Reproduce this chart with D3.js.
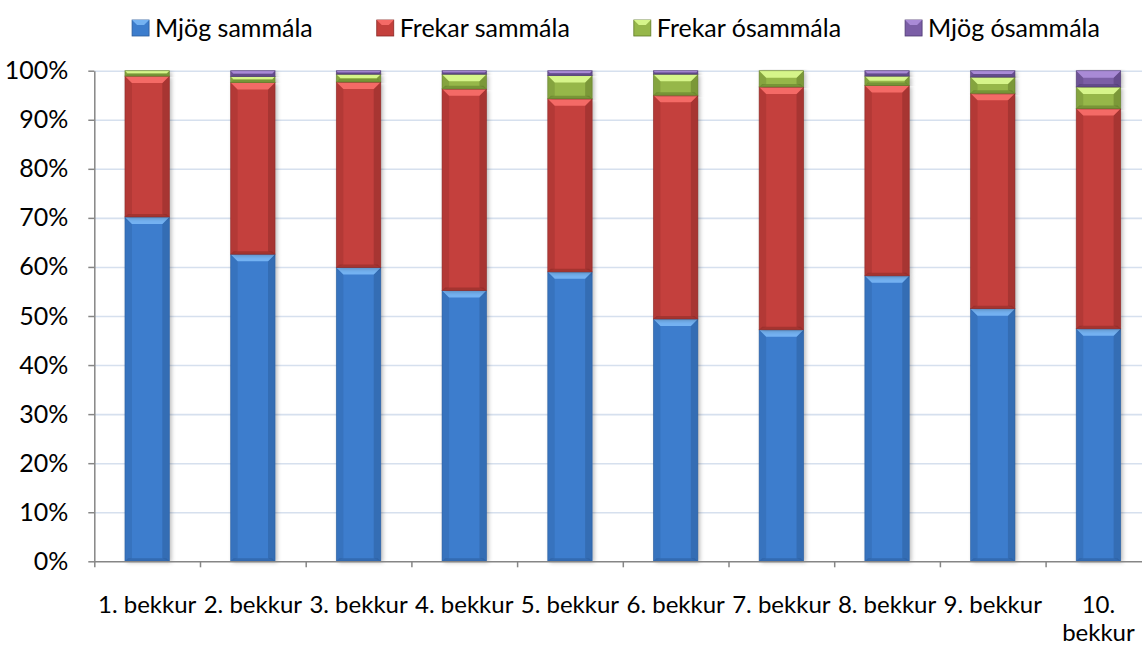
<!DOCTYPE html>
<html>
<head>
<meta charset="utf-8">
<script src="https://cdn.jsdelivr.net/npm/d3@7"></script>
<style>
  body { margin: 0; background: #fff; }
  svg { display: block; font-family: Lato, "Open Sans", sans-serif; }
</style>
</head>
<body>
<svg id="chart" width="1142" height="646"></svg>
<script>
const categories = ["1. bekkur", "2. bekkur", "3. bekkur", "4. bekkur", "5. bekkur",
    "6. bekkur", "7. bekkur", "8. bekkur", "9. bekkur", "10. bekkur"];
const seriesNames = ["Mjög sammála", "Frekar sammála", "Frekar ósammála", "Mjög ósammála"];
const mjogSammala = [70.2, 62.6, 59.9, 55.2, 59.0, 49.4, 47.2, 58.2, 51.5, 47.4];
const frekarSammala = [28.7, 35.0, 37.8, 41.1, 35.3, 45.6, 49.5, 38.8, 43.9, 44.9];
const frekarOsammala = [1.1, 1.2, 1.6, 3.0, 4.7, 4.3, 3.3, 1.9, 3.3, 4.4];
const mjogOsammala = [0, 1.2, 0.7, 0.7, 1.0, 0.7, 0, 1.1, 1.3, 3.3];
const yTicks = [0, 10, 20, 30, 40, 50, 60, 70, 80, 90, 100];

// face, light bevel, dark bevel
const colors = [
    ["#3c7dcd", "#74b2f2", "#2b5d9c"],
    ["#c4403c", "#f46a66", "#8a2a27"],
    ["#96b74a", "#d6f58a", "#5f7a28"],
    ["#7b5ea6", "#a98ad6", "#4f3a72"]
];

const rows = categories.map((c, i) => {
    const r = { cat: c };
    r[seriesNames[0]] = mjogSammala[i];
    r[seriesNames[1]] = frekarSammala[i];
    r[seriesNames[2]] = frekarOsammala[i];
    r[seriesNames[3]] = mjogOsammala[i];
    return r;
});
const stacked = d3.stack().keys(seriesNames)(rows);

const plotLeft = 94.3, plotRight = 1151.3, plotTop = 70.7, plotBottom = 561.3;
const svg = d3.select("#chart");

const x = d3.scaleBand().domain(categories).range([plotLeft, plotRight])
    .paddingInner(0.58).paddingOuter(0.29);
const xTick = d3.scaleLinear().domain([0, categories.length]).range([plotLeft, plotRight]);
const y = d3.scaleLinear().domain([0, 100]).range([plotBottom, plotTop]);

// shadow filter
const defs = svg.append("defs");
const f = defs.append("filter").attr("id", "shadow")
    .attr("x", "-30%").attr("y", "-5%").attr("width", "160%").attr("height", "110%");
f.append("feDropShadow").attr("dx", 2).attr("dy", 1).attr("stdDeviation", 2.2)
    .attr("flood-color", "#000").attr("flood-opacity", 0.28);

// gridlines
svg.append("g")
    .attr("transform", "translate(" + plotLeft + ",0)")
    .call(d3.axisLeft(y).tickValues(yTicks.slice(1)).tickSize(-(plotRight - plotLeft)).tickFormat(""))
    .call(g => g.select(".domain").remove())
    .call(g => g.selectAll("line").attr("stroke", "#d6e0ee").attr("stroke-width", 1.6));

// bars
const b = 7;
const barG = svg.append("g");
stacked.forEach((layer, si) => {
    const col = colors[si];
    layer.forEach((d, i) => {
        const h = y(d[0]) - y(d[1]);
        if (h <= 0) return;
        const x0 = x(categories[i]), x1 = x0 + x.bandwidth();
        const y0 = y(d[1]), y1 = y(d[0]);
        const bb = Math.min(b, h / 2);
        const bb2 = Math.min(3, h / 2);
        const g = barG.append("g");
        g.append("rect").attr("x", x0).attr("y", y0).attr("width", x1 - x0).attr("height", h)
            .attr("fill", col[0]).attr("filter", "url(#shadow)");
        // left and right bevel
        g.append("polygon").attr("points", [[x0, y0], [x0 + bb, y0 + bb], [x0 + bb, y1 - bb2], [x0, y1]].join(" "))
            .attr("fill", col[2]).attr("opacity", 0.3);
        g.append("polygon").attr("points", [[x1, y0], [x1 - bb, y0 + bb], [x1 - bb, y1 - bb2], [x1, y1]].join(" "))
            .attr("fill", col[2]).attr("opacity", 0.5);
        // top bevel
        g.append("polygon").attr("points", [[x0, y0], [x1, y0], [x1 - bb, y0 + bb], [x0 + bb, y0 + bb]].join(" "))
            .attr("fill", col[1]);
        // bottom bevel
        g.append("polygon").attr("points", [[x0, y1], [x1, y1], [x1 - bb2, y1 - bb2], [x0 + bb2, y1 - bb2]].join(" "))
            .attr("fill", col[2]).attr("opacity", 0.55);
        g.append("rect").attr("x", x0).attr("y", y0).attr("width", x1 - x0).attr("height", h)
            .attr("fill", "none").attr("stroke", col[2]).attr("stroke-width", 0.8).attr("stroke-opacity", 0.7);
    });
});

// y axis
svg.append("g")
    .attr("transform", "translate(" + plotLeft + ",0)")
    .call(d3.axisLeft(y).tickValues(yTicks).tickSize(6).tickSizeOuter(0).tickPadding(20)
        .tickFormat(d => d + "%"))
    .call(g => g.select(".domain").attr("stroke", "#868686").attr("stroke-width", 1.5))
    .call(g => g.selectAll("line").attr("stroke", "#868686").attr("stroke-width", 1.5))
    .call(g => g.selectAll("text").attr("font-size", 25).attr("fill", "#000")
        .attr("font-family", "Lato, sans-serif"));

// x axis
svg.append("g")
    .attr("transform", "translate(0," + plotBottom + ")")
    .call(d3.axisBottom(xTick).tickValues(d3.range(0, categories.length + 1)).tickSize(6)
        .tickSizeOuter(0).tickFormat(""))
    .call(g => g.select(".domain").attr("stroke", "#868686").attr("stroke-width", 1.5))
    .call(g => g.selectAll("line").attr("stroke", "#868686").attr("stroke-width", 1.5));

// x labels, wrapped if wider than a category
const labels = svg.append("g").attr("font-size", 24).attr("fill", "#000").attr("text-anchor", "middle");
categories.forEach(c => {
    const cx = x(c) + x.bandwidth() / 2;
    const t = labels.append("text").attr("x", cx).attr("y", 613).text(c);
    if (t.node().getComputedTextLength() > x.step() - 4) {
        const parts = c.split(" ");
        t.text(parts[0]);
        labels.append("text").attr("x", cx).attr("y", 641).text(parts.slice(1).join(" "));
    }
});

// legend
const legend = svg.append("g");
let lx = 0;
seriesNames.forEach((name, i) => {
    const item = legend.append("g").attr("transform", "translate(" + lx + ",0)");
    const col = colors[i];
    item.append("rect").attr("x", 0).attr("y", 20).attr("width", 17).attr("height", 16).attr("fill", col[0])
        .attr("stroke", col[2]).attr("stroke-width", 0.8);
    item.append("polygon").attr("points", "0,20 17,20 12,25 5,25").attr("fill", col[1]);
    const t = item.append("text").attr("x", 23).attr("y", 37).attr("font-size", 25).text(name);
    lx += 23 + t.node().getComputedTextLength() + 64;
});
const lw = lx - 64;
legend.attr("transform", "translate(" + (616 - lw / 2) + ",0)");
</script>
</body>
</html>
